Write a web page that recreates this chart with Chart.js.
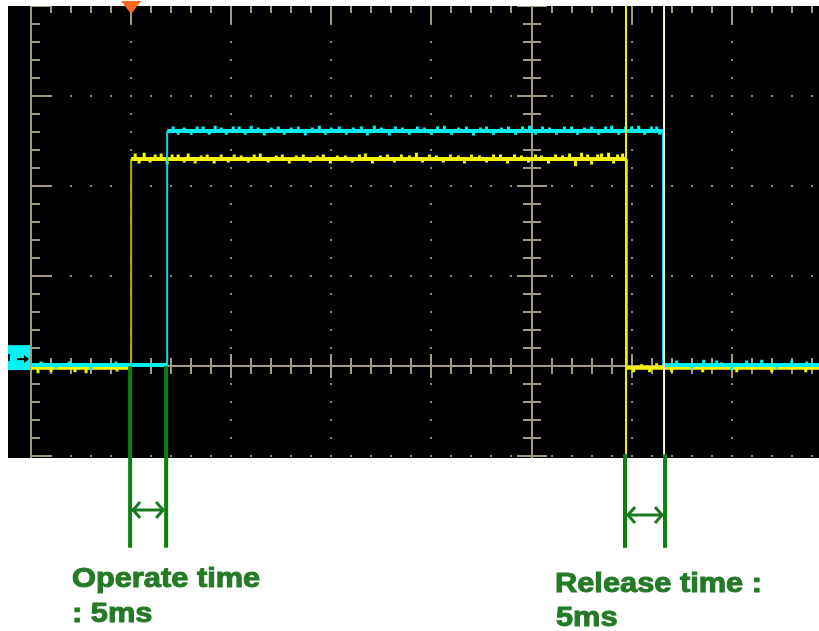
<!DOCTYPE html>
<html>
<head>
<meta charset="utf-8">
<script src="https://cdn.jsdelivr.net/npm/chart.js@4"></script>
<style>
  html, body { margin: 0; padding: 0; background: #fff; }
  canvas { display: block; }
</style>
</head>
<body>
<canvas id="scope" width="819" height="631"></canvas>
<script>
// screen range, in divisions
const xRange = [-0.23, 7.872];
const yRange = [-1.022, 4];
const traceStart = 0;

// traces: [rise, fall] in div, [low, high] level in div
const yellowEdges = [1.0, 5.954];
const yellowLevels = [-0.02, 2.3];
const cyanEdges = [1.36, 6.314];
const cyanLevels = [0.01, 2.61];

// cursor lines
const cursorX = [5.944, 6.324];

// noise spikes, [time, offset]
const yellowSpikes = [
  [0.07, -0.06], [0.12, 0.06], [0.2, -0.05], [0.33, 0.05], [0.44, -0.05], [0.55, -0.06],
  [0.62, 0.05], [0.78, 0.05], [0.86, -0.04],
  [1.04, 0.06], [1.08, -0.05], [1.13, 0.07], [1.19, -0.04], [1.24, 0.05], [1.3, 0.06],
  [1.36, -0.06], [1.41, 0.05], [1.47, 0.05], [1.53, -0.04], [1.57, 0.06], [1.64, -0.05],
  [1.7, 0.04], [1.76, 0.05], [1.83, -0.05], [1.9, 0.05], [1.97, -0.04], [2.03, 0.05],
  [2.1, 0.04], [2.17, -0.04], [2.23, 0.05], [2.29, 0.06], [2.37, -0.04], [2.45, 0.04],
  [2.51, 0.05], [2.58, -0.05], [2.65, 0.04], [2.72, 0.05], [2.79, -0.04], [2.86, 0.04],
  [2.92, 0.05], [2.99, -0.05], [3.06, 0.04], [3.14, 0.04], [3.21, -0.04], [3.28, 0.05],
  [3.34, 0.06], [3.41, -0.05], [3.49, 0.04], [3.56, 0.05], [3.63, -0.04], [3.7, 0.05],
  [3.78, 0.04], [3.85, 0.07], [3.91, -0.04], [3.98, 0.05], [4.05, 0.04], [4.12, -0.04],
  [4.19, 0.05], [4.27, 0.04], [4.33, -0.05], [4.4, 0.05], [4.48, 0.04], [4.55, -0.04],
  [4.62, 0.05], [4.69, 0.05], [4.76, -0.05], [4.83, 0.05], [4.9, 0.04], [4.97, -0.04],
  [5.04, 0.05], [5.1, 0.04], [5.17, -0.05], [5.24, 0.05], [5.31, 0.04], [5.38, 0.06],
  [5.44, -0.08], [5.5, 0.07], [5.56, 0.05], [5.6, -0.06], [5.66, 0.05], [5.7, 0.06],
  [5.77, 0.07], [5.82, -0.05], [5.86, 0.05], [5.91, 0.06],
  [6.02, -0.05], [6.1, 0.04], [6.18, -0.05], [6.25, 0.05], [6.4, -0.05], [6.58, 0.05],
  [6.71, -0.05], [6.9, 0.06], [7.05, -0.05], [7.22, 0.05], [7.4, -0.05], [7.58, 0.05],
  [7.74, -0.05]
];
const cyanSpikes = [
  [0.1, 0.04], [0.25, -0.04], [0.38, 0.04], [0.6, -0.05], [0.85, 0.04],
  [1.42, 0.05], [1.47, -0.04], [1.53, 0.04], [1.6, -0.04], [1.66, 0.05], [1.72, 0.05],
  [1.78, -0.04], [1.84, 0.06], [1.9, 0.04], [1.95, -0.04], [2.02, 0.05], [2.08, 0.05],
  [2.14, -0.04], [2.2, 0.06], [2.27, 0.04], [2.33, -0.05], [2.4, 0.04], [2.47, 0.05],
  [2.53, -0.04], [2.6, 0.04], [2.67, 0.05], [2.74, -0.05], [2.81, 0.04], [2.88, 0.06],
  [2.94, -0.04], [3.0, 0.04], [3.08, 0.05], [3.15, -0.04], [3.22, 0.04], [3.3, 0.05],
  [3.36, -0.05], [3.43, 0.06], [3.5, 0.04], [3.58, -0.05], [3.64, 0.05], [3.71, 0.04],
  [3.78, -0.04], [3.86, 0.05], [3.93, 0.04], [4.0, -0.04], [4.06, 0.05], [4.13, 0.06],
  [4.2, -0.04], [4.27, 0.04], [4.35, 0.05], [4.42, -0.05], [4.49, 0.04], [4.55, 0.05],
  [4.62, -0.04], [4.7, 0.04], [4.77, 0.05], [4.84, -0.04], [4.91, 0.05], [4.98, 0.06],
  [5.04, -0.04], [5.11, 0.05], [5.18, 0.04], [5.25, -0.04], [5.33, 0.05], [5.4, 0.05],
  [5.46, -0.04], [5.53, 0.04], [5.6, 0.05], [5.67, -0.04], [5.74, 0.05], [5.8, 0.06],
  [5.87, -0.04], [5.94, 0.05], [6.0, 0.05], [6.07, 0.06], [6.13, -0.04], [6.2, 0.05],
  [6.25, 0.05], [6.28, -0.04],
  [6.45, 0.05], [6.6, -0.04], [6.72, 0.06], [6.85, 0.05], [7.0, -0.05], [7.15, 0.05],
  [7.3, 0.06], [7.45, -0.04], [7.6, 0.05], [7.75, 0.04]
];

// annotation marks (div)
const operateMarks = [0.99, 1.35];
const releaseMarks = [5.934, 6.334];
const operateArrowY = -1.6;
const releaseArrowY = -1.656;
const markBottom = -2.02;
const releaseTop = -0.98;
const triggerX = 1.0;
const labels = ['Operate time', ': 5ms', 'Release time :', '5ms'];

// graticule
const gridX = [1, 2, 3, 4, 6, 7];
const gridY = [-1, 1, 2, 3];
const centerX = 5, centerY = 0, borderX = 0, borderY = 4;

function stepTrace(edges, levels) {
  return [
    {x: traceStart, y: levels[0]}, {x: edges[0], y: levels[0]},
    {x: edges[0], y: levels[1]}, {x: edges[1], y: levels[1]},
    {x: edges[1], y: levels[0]}, {x: xRange[1], y: levels[0]}
  ];
}

function spikeTrace(spikes, edges, levels) {
  const out = [];
  spikes.forEach(([t, d]) => {
    const base = (t > edges[0] && t < edges[1]) ? levels[1] : levels[0];
    out.push({x: t, y: base}, {x: t, y: base + d}, {x: t, y: null});
  });
  return out;
}

function cursorTrace(xs) {
  const out = [];
  xs.forEach(c => out.push({x: c, y: yRange[0]}, {x: c, y: yRange[1]}, {x: c, y: null}));
  return out;
}

const vertical = ctx => ctx.p0.parsed.x === ctx.p1.parsed.x;

function line(ctx, x1, y1, x2, y2) {
  ctx.beginPath();
  ctx.moveTo(x1, y1);
  ctx.lineTo(x2, y2);
  ctx.stroke();
}

const scopePlugin = {
  id: 'scope',
  beforeDraw(chart) {
    const {ctx, chartArea: a} = chart;
    ctx.save();
    ctx.fillStyle = '#fff';
    ctx.fillRect(0, 0, chart.width, chart.height);
    ctx.fillStyle = '#000';
    ctx.fillRect(a.left, a.top, a.right - a.left, a.bottom - a.top);
    ctx.restore();
  },
  beforeDatasetsDraw(chart) {
    const {ctx, chartArea: a, scales: {x, y}} = chart;
    const px = v => Math.round(x.getPixelForValue(v));
    const py = v => Math.round(y.getPixelForValue(v));
    ctx.save();
    ctx.beginPath();
    ctx.rect(a.left, a.top, a.right - a.left, a.bottom - a.top);
    ctx.clip();

    // dotted grid
    ctx.fillStyle = '#8e8a78';
    gridX.forEach(g => {
      for (let k = -5; k <= 20; k++) ctx.fillRect(px(g) - 1, py(k * 0.2) - 1, 2, 2);
    });
    gridY.forEach(g => {
      for (let k = 0; k <= 39; k++) ctx.fillRect(px(k * 0.2) - 1, py(g) - 1, 2, 2);
    });

    // axes
    ctx.strokeStyle = '#a39a82';
    ctx.lineWidth = 2;
    line(ctx, px(borderX), a.top, px(borderX), a.bottom);
    line(ctx, px(centerX), a.top, px(centerX), a.bottom);
    line(ctx, px(borderX), py(centerY), a.right, py(centerY));

    for (let k = -5; k <= 20; k++) {
      const v = k * 0.2, major = k % 5 === 0, yy = py(v);
      line(ctx, px(borderX), yy, px(borderX) + (major ? 21 : 9), yy);
      const h = major ? 15 : 9;
      line(ctx, px(centerX) - h, yy, px(centerX) + h, yy);
    }
    for (let k = 0; k <= 39; k++) {
      const v = k * 0.2, major = k % 5 === 0, xx = px(v);
      const h = major ? 12 : 8;
      line(ctx, xx, py(centerY) - h, xx, py(centerY) + h);
      line(ctx, xx, py(borderY), xx, py(borderY) + (major ? 18 : 7));
    }
    ctx.restore();
  },
  afterDatasetsDraw(chart) {
    const {ctx, chartArea: a, scales: {x, y}} = chart;
    const px = v => x.getPixelForValue(v);
    const py = v => y.getPixelForValue(v);
    ctx.save();

    // trigger marker
    const tx = px(triggerX);
    ctx.fillStyle = '#ff6a22';
    ctx.beginPath();
    ctx.moveTo(tx - 10, 1);
    ctx.lineTo(tx + 10, 1);
    ctx.lineTo(tx, 14);
    ctx.closePath();
    ctx.fill();

    // ground marker
    const gy = py(cyanLevels[0]);
    ctx.fillStyle = '#00f4f4';
    ctx.fillRect(a.left, gy - 20, px(borderX) - a.left - 1, 25);
    ctx.strokeStyle = '#000';
    ctx.fillStyle = '#000';
    ctx.lineWidth = 2;
    line(ctx, a.left + 9, gy - 6, a.left + 20, gy - 6);
    ctx.beginPath();
    ctx.moveTo(a.left + 21, gy - 6);
    ctx.lineTo(a.left + 16, gy - 10);
    ctx.lineTo(a.left + 16, gy - 2);
    ctx.closePath();
    ctx.fill();
    ctx.fillRect(a.left, gy - 11, 2, 7);

    // green measurement lines
    ctx.strokeStyle = '#0f7f10';
    ctx.lineWidth = 4;
    operateMarks.forEach(m => line(ctx, px(m), py(centerY), px(m), py(markBottom)));
    releaseMarks.forEach(m => line(ctx, px(m), py(releaseTop), px(m), py(markBottom)));

    // double arrows
    const arrow = (m, ay) => {
      const x1 = px(m[0]) + 2, x2 = px(m[1]) - 2, yy = py(ay);
      ctx.strokeStyle = '#1c7a22';
      ctx.lineWidth = 3;
      line(ctx, x1, yy, x2, yy);
      ctx.beginPath();
      ctx.moveTo(x1 + 8, yy - 8); ctx.lineTo(x1 + 1, yy); ctx.lineTo(x1 + 8, yy + 8);
      ctx.moveTo(x2 - 8, yy - 8); ctx.lineTo(x2 - 1, yy); ctx.lineTo(x2 - 8, yy + 8);
      ctx.stroke();
    };
    arrow(operateMarks, operateArrowY);
    arrow(releaseMarks, releaseArrowY);

    // labels
    ctx.fillStyle = '#247a26';
    ctx.strokeStyle = '#247a26';
    ctx.lineWidth = 1;
    ctx.font = 'bold 27px "Liberation Sans", Arial, sans-serif';
    const text = (t, tx0, ty0) => {
      ctx.save();
      ctx.translate(tx0, ty0);
      ctx.scale(1.14, 1);
      ctx.fillText(t, 0, 0);
      ctx.strokeText(t, 0, 0);
      ctx.restore();
    };
    text(labels[0], 72, 587);
    text(labels[1], 72, 622);
    text(labels[2], 555, 592);
    text(labels[3], 556, 626);
    ctx.restore();
  }
};

new Chart(document.getElementById('scope'), {
  type: 'line',
  data: {
    datasets: [
      {
        label: 'cursors',
        data: cursorTrace(cursorX),
        borderWidth: 2,
        borderColor: '#f2f200',
        segment: {
          borderColor: ctx => ctx.p0.parsed.x === cursorX[1] ? '#fbf6c4' : undefined
        }
      },
      {
        label: 'CH2',
        data: stepTrace(cyanEdges, cyanLevels),
        borderWidth: 4,
        borderColor: '#00f0f0',
        segment: {
          borderWidth: ctx => vertical(ctx) ? 2 : undefined,
          borderColor: ctx => vertical(ctx) ? '#10d8e8' : undefined
        }
      },
      {
        label: 'CH2 noise',
        data: spikeTrace(cyanSpikes, cyanEdges, cyanLevels),
        borderWidth: 3,
        borderColor: '#00f0f0'
      },
      {
        label: 'CH1',
        data: stepTrace(yellowEdges, yellowLevels),
        borderWidth: 4,
        borderColor: '#f4f400',
        segment: {
          borderWidth: ctx => vertical(ctx) ? 2 : undefined,
          borderColor: ctx => vertical(ctx) ? '#b4ac00' : undefined
        }
      },
      {
        label: 'CH1 noise',
        data: spikeTrace(yellowSpikes, yellowEdges, yellowLevels),
        borderWidth: 3,
        borderColor: '#f4f400'
      }
    ]
  },
  options: {
    responsive: false,
    animation: false,
    layout: { padding: { left: 8, top: 6, right: 0, bottom: 173 } },
    scales: {
      x: { type: 'linear', min: xRange[0], max: xRange[1], display: false },
      y: { type: 'linear', min: yRange[0], max: yRange[1], display: false }
    },
    elements: {
      point: { radius: 0 },
      line: { tension: 0, borderCapStyle: 'butt', fill: false }
    },
    plugins: {
      legend: { display: false },
      tooltip: { enabled: false }
    }
  },
  plugins: [scopePlugin]
});
</script>
</body>
</html>
